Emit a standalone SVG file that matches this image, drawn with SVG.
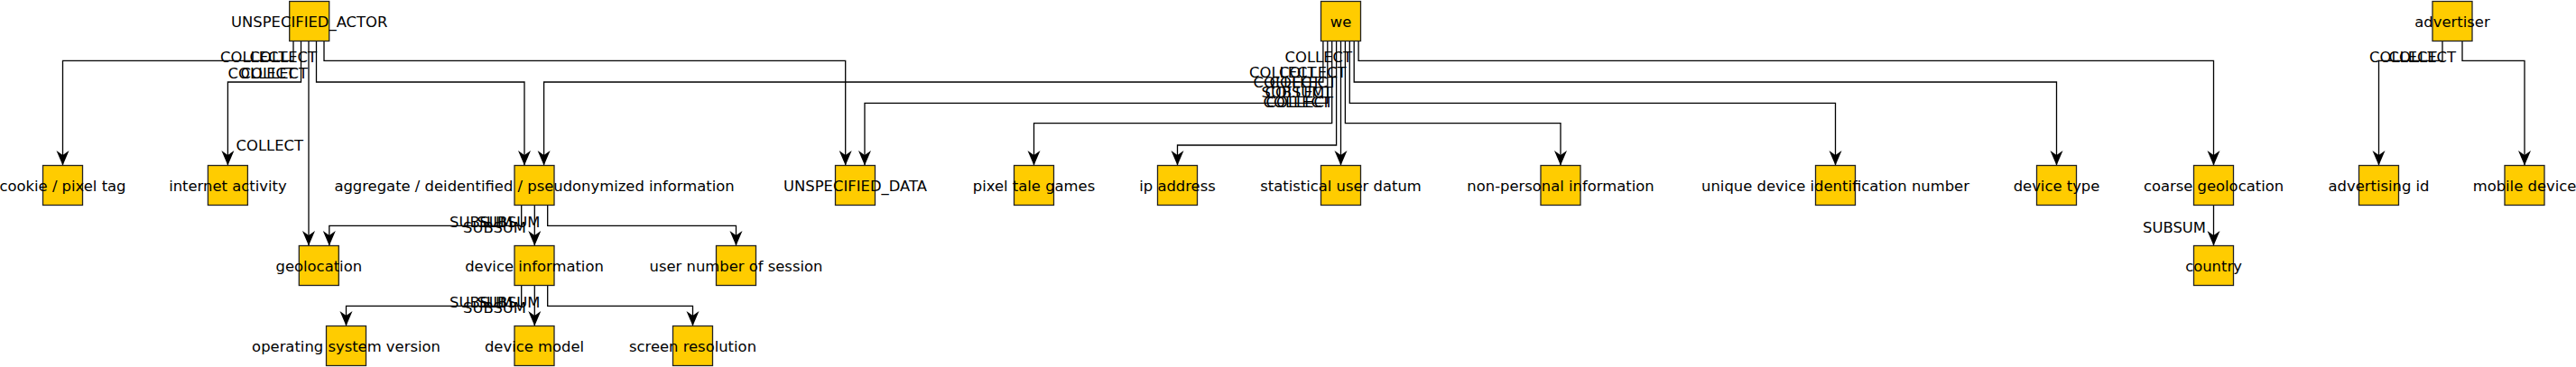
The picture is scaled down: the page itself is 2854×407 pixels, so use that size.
<svg xmlns="http://www.w3.org/2000/svg" width="2854" height="407" viewBox="0 0 2854 407">
<style>
.n rect{fill:#FFCC00;stroke:#222;stroke-width:1.3}
.n text{font-family:"DejaVu Sans",sans-serif;font-size:16.4px;fill:#000;text-anchor:middle}
.e path{fill:none;stroke:#000;stroke-width:1.3;marker-end:url(#arr)}
.l text{font-family:"DejaVu Sans",sans-serif;font-size:16.4px;fill:#000;text-anchor:end}
</style>
<defs>
<marker id="arr" markerUnits="userSpaceOnUse" viewBox="-17 -8 18 16" markerWidth="18" markerHeight="16" refX="0" refY="0" orient="auto">
<path d="M0,0 L-16.5,-7 L-11.5,0 L-16.5,7 Z" fill="#000"/>
</marker>
</defs>
<rect width="2854" height="407" fill="#fff"/>
<g id="edges" class="e">
<path d="M325,45.5 V67.3 H69.5 V183.5"/>
<path d="M333.5,45.5 V91 H252.4 V183.5"/>
<path d="M342,45.5 V272.5"/>
<path d="M350.5,45.5 V91 H581 V183.5"/>
<path d="M359,45.5 V67.3 H936.7 V183.5"/>
<path d="M1465.9,45.5 V91 H602.6 V183.5"/>
<path d="M1470.8,45.5 V114.3 H958 V183.5"/>
<path d="M1475.7,45.5 V136.7 H1145.5 V183.5"/>
<path d="M1480.6,45.5 V161 H1304.5 V183.5"/>
<path d="M1485.5,45.5 V183.5"/>
<path d="M1490.4,45.5 V136.7 H1729 V183.5"/>
<path d="M1495.3,45.5 V114.3 H2033.5 V183.5"/>
<path d="M1500.2,45.5 V91 H2278.5 V183.5"/>
<path d="M1505.1,45.5 V67.3 H2452.5 V183.5"/>
<path d="M2706,45.5 V67.3 H2635.5 V183.5"/>
<path d="M2728,45.5 V67.3 H2797 V183.5"/>
<path d="M577.7,227.5 V250.3 H364.8 V272.5"/>
<path d="M592.3,227.5 V272.5"/>
<path d="M606.7,227.5 V250.3 H815.5 V272.5"/>
<path d="M577.7,316.5 V339.3 H383.5 V361.5"/>
<path d="M592.3,316.5 V361.5"/>
<path d="M606.7,316.5 V339.3 H767.5 V361.5"/>
<path d="M2452.5,227.5 V272.5"/>
</g>
<g id="edge-labels" class="l">
<text x="318.5" y="69">COLLECT</text>
<text x="351" y="69">COLLECT</text>
<text x="327" y="86.5">COLLECT</text>
<text x="341" y="86.5">COLLECT</text>
<text x="336" y="166.5">COLLECT</text>
<text x="1498" y="69">COLLECT</text>
<text x="1458.5" y="86">COLLECT</text>
<text x="1491.5" y="86">COLLECT</text>
<text x="1463" y="96.5">COLLECT</text>
<text x="1481" y="96.5">COLLECT</text>
<text x="1467.5" y="107.5">SUBSUM</text>
<text x="1476" y="107.5">COLLECT</text>
<text x="1474" y="119">COLLECT</text>
<text x="1477" y="119">COLLECT</text>
<text x="2699.5" y="69">COLLECT</text>
<text x="2721" y="69">COLLECT</text>
<text x="568" y="251.5">SUBSUM</text>
<text x="598.5" y="251.5">SUBSUM</text>
<text x="583" y="258">SUBSUM</text>
<text x="568" y="340.5">SUBSUM</text>
<text x="598.5" y="340.5">SUBSUM</text>
<text x="583" y="347">SUBSUM</text>
<text x="2444" y="257.5">SUBSUM</text>
</g>
<g id="n-unspecified-actor" class="n"><rect x="320.7" y="1.5" width="44" height="44"/><text x="342.7" y="30">UNSPECIFIED_ACTOR</text></g>
<g id="n-we" class="n"><rect x="1463.5" y="1.5" width="44" height="44"/><text x="1485.5" y="30">we</text></g>
<g id="n-advertiser" class="n"><rect x="2695" y="1.5" width="44" height="44"/><text x="2717" y="30">advertiser</text></g>
<g id="n-cookie" class="n"><rect x="47.5" y="183.5" width="44" height="44"/><text x="69.5" y="212">cookie / pixel tag</text></g>
<g id="n-internet-activity" class="n"><rect x="230.4" y="183.5" width="44" height="44"/><text x="252.4" y="212">internet activity</text></g>
<g id="n-aggregate" class="n"><rect x="570" y="183.5" width="44" height="44"/><text x="592" y="212">aggregate / deidentified / pseudonymized information</text></g>
<g id="n-unspecified-data" class="n"><rect x="925.5" y="183.5" width="44" height="44"/><text x="947.5" y="212">UNSPECIFIED_DATA</text></g>
<g id="n-pixel-tale-games" class="n"><rect x="1123.5" y="183.5" width="44" height="44"/><text x="1145.5" y="212">pixel tale games</text></g>
<g id="n-ip-address" class="n"><rect x="1282.5" y="183.5" width="44" height="44"/><text x="1304.5" y="212">ip address</text></g>
<g id="n-statistical-user-datum" class="n"><rect x="1463.5" y="183.5" width="44" height="44"/><text x="1485.5" y="212">statistical user datum</text></g>
<g id="n-non-personal-information" class="n"><rect x="1707" y="183.5" width="44" height="44"/><text x="1729" y="212">non-personal information</text></g>
<g id="n-unique-device-id" class="n"><rect x="2011.5" y="183.5" width="44" height="44"/><text x="2033.5" y="212">unique device identification number</text></g>
<g id="n-device-type" class="n"><rect x="2256.5" y="183.5" width="44" height="44"/><text x="2278.5" y="212">device type</text></g>
<g id="n-coarse-geolocation" class="n"><rect x="2430.5" y="183.5" width="44" height="44"/><text x="2452.5" y="212">coarse geolocation</text></g>
<g id="n-advertising-id" class="n"><rect x="2613.5" y="183.5" width="44" height="44"/><text x="2635.5" y="212">advertising id</text></g>
<g id="n-mobile-device" class="n"><rect x="2775" y="183.5" width="44" height="44"/><text x="2797" y="212">mobile device</text></g>
<g id="n-geolocation" class="n"><rect x="331.3" y="272.5" width="44" height="44"/><text x="353.3" y="301">geolocation</text></g>
<g id="n-device-information" class="n"><rect x="570" y="272.5" width="44" height="44"/><text x="592" y="301">device information</text></g>
<g id="n-user-number-of-session" class="n"><rect x="793.5" y="272.5" width="44" height="44"/><text x="815.5" y="301">user number of session</text></g>
<g id="n-country" class="n"><rect x="2430.5" y="272.5" width="44" height="44"/><text x="2452.5" y="301">country</text></g>
<g id="n-operating-system-version" class="n"><rect x="361.5" y="361.5" width="44" height="44"/><text x="383.5" y="390">operating system version</text></g>
<g id="n-device-model" class="n"><rect x="570" y="361.5" width="44" height="44"/><text x="592" y="390">device model</text></g>
<g id="n-screen-resolution" class="n"><rect x="745.5" y="361.5" width="44" height="44"/><text x="767.5" y="390">screen resolution</text></g>
</svg>
